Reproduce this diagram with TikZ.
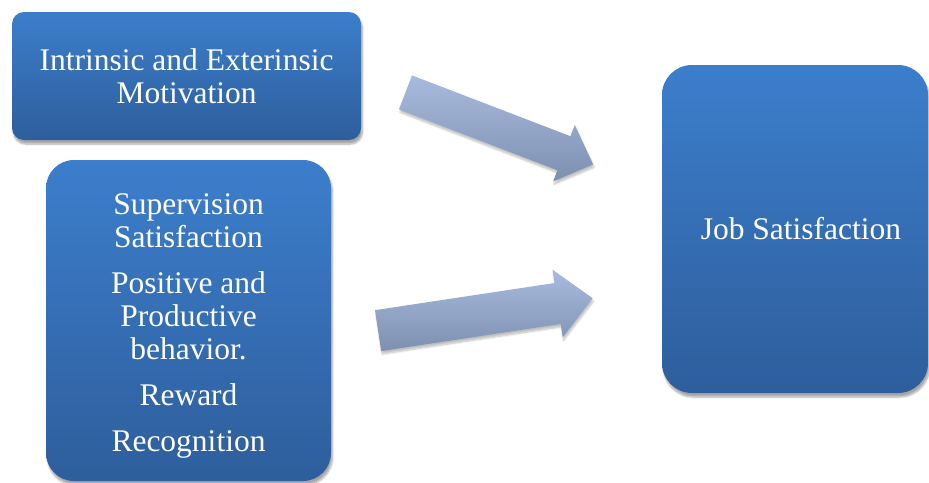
\documentclass[tikz,border=0pt]{standalone}
\usepackage{fontspec}
\setmainfont{Liberation Serif}
\usetikzlibrary{shapes.arrows,shadows.blur}
\definecolor{boxtop}{RGB}{60,126,204}
\definecolor{boxbot}{RGB}{46,94,156}
\definecolor{arrtop}{RGB}{168,187,222}
\definecolor{arrbot}{RGB}{126,144,176}

\begin{document}
\begin{tikzpicture}[x=1pt, y=-1pt, every node/.style={font=\fontsize{31.5}{33}\selectfont, text=white}, line join=round]
  \tikzset{box/.style={rectangle, rounded corners=#1, top color=boxtop, bottom color=boxbot, draw=none, align=center, inner sep=0pt, blur shadow={shadow xshift=1.5pt, shadow yshift=-4pt, shadow blur steps=8, shadow opacity=35}},
    blockarrow/.style={single arrow, top color=arrtop, bottom color=arrbot, draw=none, inner xsep=0pt, single arrow tip angle=88, blur shadow={shadow xshift=1pt, shadow yshift=-3pt, shadow blur steps=6, shadow opacity=25}}}
  \useasboundingbox (0,0) rectangle (929,482);

  % causes
  \node[box=12pt, minimum width=349pt, minimum height=128pt] (motiv) at (186.5,76) {Intrinsic and Exterinsic\\ Motivation};
  \node[box=28pt, minimum width=285pt, minimum height=321pt, text depth=0pt] (factors) at (188.5,320.5) {\\[-8pt] Supervision\\ Satisfaction\\[13pt] Positive and\\ Productive\\ behavior.\\[13pt] Reward\\[13pt] Recognition};

  % effect
  \node[box=30pt, minimum width=266pt, minimum height=328pt] (job) at (795,229) {\hspace*{12pt}Job Satisfaction};

  % arrows
  \node[blockarrow, minimum height=201pt, minimum width=60pt, inner ysep=18pt, single arrow head extend=12pt, rotate=-21] (arrA) at (490.5,125) {};
  \node[blockarrow, minimum height=217pt, minimum width=68pt, inner ysep=20.5pt, single arrow head extend=13.5pt, rotate=8.6] (arrB) at (474.75,316) {};
\end{tikzpicture}
\end{document}
